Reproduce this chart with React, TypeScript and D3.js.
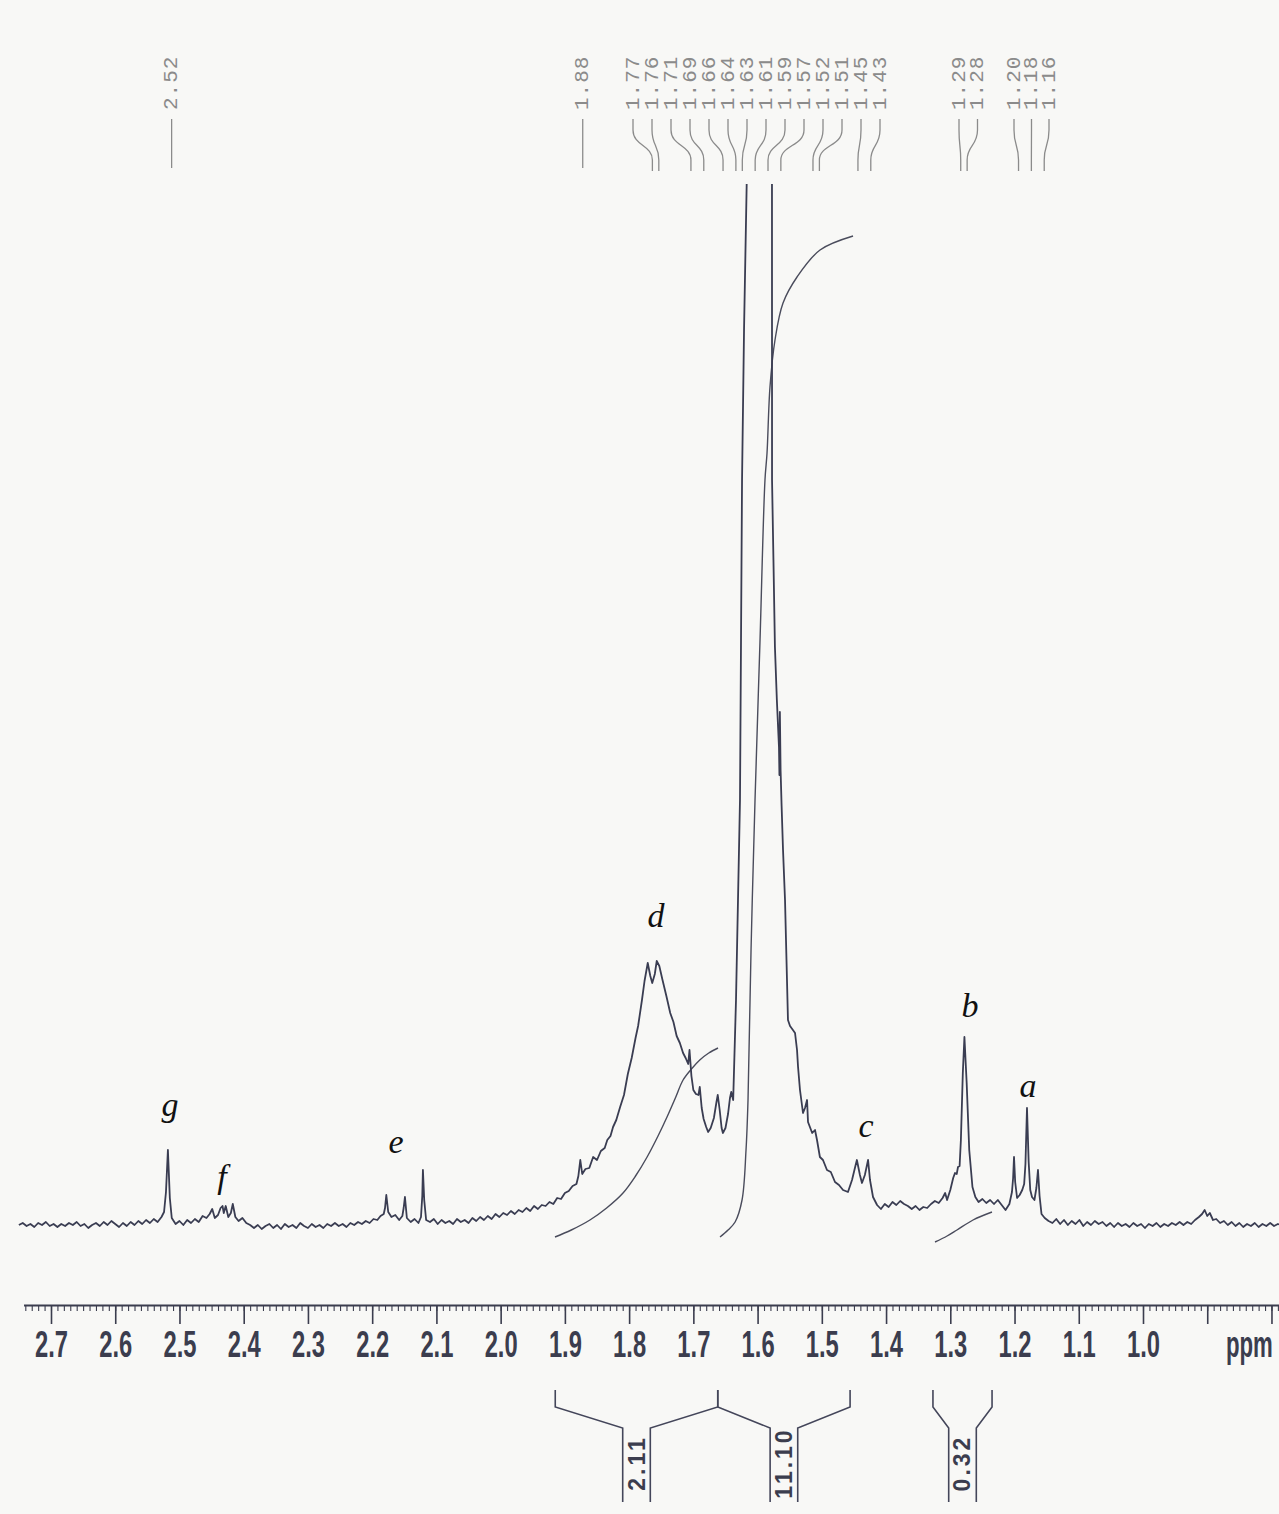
import React, { useEffect, useRef } from 'react';
import * as d3 from 'd3';

type Pt = [number, number];

// 1H NMR trace, [shift in ppm, intensity]; the solvent peak near 1.60 runs off scale
const traceLeft: Pt[] = [
  [2.750, 1], [2.744, 3], [2.738, 0], [2.732, 2], [2.726, -1], [2.720, 3], [2.714, 1], [2.708, 4],
  [2.702, 0], [2.696, 2], [2.690, -1], [2.684, 2], [2.678, 0], [2.672, 3], [2.666, 1], [2.660, 4],
  [2.654, 0], [2.648, 2], [2.642, -2], [2.636, 1], [2.630, 3], [2.624, 0], [2.618, 4], [2.612, 1],
  [2.606, 5], [2.600, 2], [2.594, -1], [2.588, 3], [2.582, 0], [2.576, 4], [2.570, 1], [2.564, 5],
  [2.558, 2], [2.552, 6], [2.546, 3], [2.540, 7], [2.534, 4], [2.528, 9],
];
const peakG: Pt[] = [[2.524, 14], [2.521, 34], [2.518, 76], [2.515, 28], [2.512, 8]];
const traceGF: Pt[] = [
  [2.506, 2], [2.500, 5], [2.494, 1], [2.488, 6], [2.482, 3], [2.476, 7], [2.470, 4], [2.464, 10], [2.458, 8],
];
const peakF: Pt[] = [
  [2.453, 12], [2.449, 17], [2.445, 8], [2.440, 11], [2.436, 18], [2.433, 20], [2.431, 13], [2.428, 20],
  [2.424, 9], [2.420, 13], [2.417, 22], [2.413, 9], [2.408, 5], [2.402, 8], [2.396, 3],
];
const traceFE: Pt[] = [
  [2.390, 1], [2.384, -2], [2.378, 1], [2.372, -3], [2.366, 0], [2.360, 2], [2.354, -2], [2.348, 1],
  [2.342, -3], [2.336, 2], [2.330, -1], [2.324, 1], [2.318, -2], [2.312, 3], [2.306, 0], [2.300, -2],
  [2.294, 2], [2.288, -1], [2.282, 1], [2.276, -2], [2.270, 2], [2.264, 0], [2.258, 3], [2.252, 0],
  [2.246, 2], [2.240, -1], [2.234, 3], [2.228, 1], [2.222, 4], [2.216, 2], [2.210, 5], [2.204, 3],
  [2.198, 7], [2.192, 6], [2.187, 10], [2.182, 12],
];
const peakE: Pt[] = [
  [2.180, 18], [2.178, 31], [2.175, 14], [2.170, 9], [2.164, 11], [2.158, 6], [2.153, 10], [2.151, 18],
  [2.149, 29], [2.146, 8], [2.140, 4], [2.134, 7], [2.128, 3], [2.124, 9], [2.122, 30], [2.121, 56],
  [2.119, 26], [2.116, 6], [2.110, 4],
];
const traceED: Pt[] = [
  [2.104, 7], [2.098, 2], [2.092, 6], [2.086, 3], [2.080, 5], [2.074, 2], [2.068, 7], [2.062, 4],
  [2.056, 6], [2.050, 3], [2.044, 8], [2.038, 5], [2.032, 9], [2.026, 6], [2.020, 10], [2.014, 7],
  [2.008, 12], [2.002, 9], [1.996, 13], [1.990, 11], [1.984, 15], [1.978, 12], [1.972, 16], [1.966, 14],
  [1.960, 18], [1.954, 15], [1.948, 20], [1.942, 17], [1.936, 21], [1.930, 20], [1.924, 24], [1.918, 22],
  [1.912, 28], [1.906, 27], [1.900, 33], [1.894, 35], [1.888, 40], [1.882, 42], [1.879, 50], [1.876, 66],
  [1.873, 52], [1.868, 57], [1.862, 58], [1.856, 69], [1.850, 66], [1.844, 75], [1.838, 78], [1.834, 86],
  [1.829, 90], [1.825, 99],
];
const peakD: Pt[] = [
  [1.820, 106], [1.814, 119], [1.808, 131], [1.802, 152], [1.796, 168], [1.790, 188], [1.786, 200],
  [1.780, 226], [1.776, 245], [1.771, 263], [1.767, 250], [1.764, 243], [1.760, 252], [1.757, 265],
  [1.753, 260], [1.748, 246], [1.742, 230], [1.736, 213], [1.731, 204], [1.726, 190], [1.721, 183],
  [1.716, 173], [1.712, 168], [1.708, 162], [1.706, 176], [1.703, 150], [1.700, 136], [1.696, 132],
  [1.692, 131], [1.690, 139], [1.687, 118], [1.684, 107], [1.680, 99], [1.677, 94], [1.673, 98],
  [1.668, 108], [1.664, 124], [1.662, 131], [1.659, 116], [1.656, 98], [1.654, 93], [1.650, 98],
  [1.646, 112], [1.643, 128], [1.641, 134], [1.638, 126],
];
const peakSolvent: Pt[] = [
  [1.6336, 226], [1.6305, 326], [1.6274, 426], [1.6258, 586], [1.6242, 746], [1.6211, 896], [1.6170, 1041],
  [1.612, 1500], [1.603, 2600], [1.592, 2600], [1.583, 1500], [1.5776, 1041], [1.5775, 746], [1.5753, 666],
  [1.573, 579], [1.570, 526], [1.5667, 479], [1.566, 451], [1.5653, 514], [1.5642, 456], [1.5626, 420],
  [1.5604, 376], [1.5573, 326], [1.555, 266], [1.5527, 206], [1.5495, 200], [1.545, 196], [1.5417, 193],
  [1.5386, 176], [1.537, 159], [1.534, 136], [1.5293, 113], [1.5262, 118], [1.523, 126], [1.5215, 104],
  [1.515, 93], [1.5106, 96], [1.5075, 86], [1.503, 69], [1.4982, 66], [1.492, 56], [1.486, 54],
  [1.4795, 44], [1.4733, 41], [1.467, 36], [1.4593, 34],
];
const peakC: Pt[] = [
  [1.453, 46], [1.4485, 58], [1.4454, 66], [1.4407, 51], [1.4375, 43], [1.433, 51], [1.428, 66],
  [1.425, 46], [1.4203, 29], [1.414, 21],
];
const traceCB: Pt[] = [
  [1.408, 17], [1.402, 22], [1.396, 19], [1.390, 24], [1.384, 21], [1.378, 25], [1.372, 22], [1.366, 20],
  [1.360, 17], [1.354, 20], [1.348, 16], [1.342, 19], [1.336, 18], [1.330, 22], [1.324, 25], [1.318, 23],
  [1.312, 28], [1.308, 33], [1.305, 26], [1.300, 36], [1.2955, 48], [1.2927, 53], [1.290, 52], [1.288, 59],
  [1.2855, 60],
];
const peakB: Pt[] = [
  [1.2835, 86], [1.2805, 153], [1.278, 189], [1.2745, 143], [1.2705, 76], [1.2655, 39], [1.2610, 29],
];
const traceBA: Pt[] = [
  [1.2560, 24], [1.2500, 27], [1.2440, 23], [1.2380, 26], [1.2320, 22], [1.2260, 26], [1.2200, 21],
  [1.2140, 16], [1.2080, 22], [1.2040, 34],
];
const peakA: Pt[] = [
  [1.2022, 48], [1.2008, 69], [1.1990, 44], [1.1960, 28], [1.1920, 31], [1.1880, 36], [1.1850, 42],
  [1.1830, 62], [1.1806, 118], [1.1780, 64], [1.1755, 36], [1.1728, 29], [1.1690, 26], [1.1660, 38],
  [1.1635, 56], [1.1610, 30], [1.1580, 12],
];
const traceRight: Pt[] = [
  [1.1530, 8], [1.1470, 5], [1.1410, 3], [1.1350, 7], [1.1290, 2], [1.1230, 6], [1.1170, 1], [1.1110, 5],
  [1.1050, 2], [1.0990, 6], [1.0930, 0], [1.0870, 4], [1.0810, 1], [1.0750, 5], [1.0690, 2], [1.0630, 4],
  [1.0570, 0], [1.0510, 3], [1.0450, -1], [1.0390, 3], [1.0330, 0], [1.0270, 2], [1.0210, -1], [1.0150, 3],
  [1.0090, 0], [1.0030, 2], [0.9970, -2], [0.9910, 2], [0.9850, 0], [0.9790, 3], [0.9730, -1], [0.9670, 2],
  [0.9610, 0], [0.9550, 3], [0.9490, 1], [0.9430, 4], [0.9370, 1], [0.9310, 4], [0.9250, 2], [0.9190, 6],
  [0.9130, 9], [0.9080, 12], [0.9040, 16], [0.9000, 10], [0.8960, 13], [0.8910, 6], [0.8860, 7], [0.8800, 3],
  [0.8740, 5], [0.8680, 1], [0.8620, 4], [0.8560, 0], [0.8500, 3], [0.8440, -1], [0.8380, 2], [0.8320, 0],
  [0.8260, 3], [0.8200, -1], [0.8140, 2], [0.8080, 0], [0.8020, 3], [0.7960, 0], [0.7900, 2], [0.7850, 1],
];

const spectrum: Pt[] = [
  ...traceLeft, ...peakG, ...traceGF, ...peakF, ...traceFE, ...peakE, ...traceED, ...peakD,
  ...peakSolvent, ...peakC, ...traceCB, ...peakB, ...traceBA, ...peakA, ...traceRight,
];

// Integral curves, same coordinates as the trace
const integralD: Pt[] = [
  [1.9154, -11], [1.890, -4], [1.861, 6], [1.835, 18], [1.8095, 33], [1.790, 50], [1.772, 69],
  [1.755, 90], [1.741, 109], [1.728, 128], [1.716, 146], [1.703, 157], [1.690, 166], [1.676, 173], [1.6616, 178],
];
const integralSolvent: Pt[] = [
  [1.6585, -11], [1.646, -4], [1.635, 4], [1.6242, 26], [1.618, 76], [1.6149, 126], [1.6102, 276],
  [1.604, 426], [1.5962, 586], [1.5885, 746], [1.5853, 773], [1.5807, 839], [1.5729, 886], [1.5604, 923],
  [1.5386, 949], [1.5028, 976], [1.4514, 990],
];
const integralB: Pt[] = [[1.3238, -16], [1.305, -10], [1.2896, -4], [1.2646, 6], [1.2351, 14]];

// Integration ranges (ppm) and their values
const integralRanges: [number, number][] = [[1.915, 1.662], [1.662, 1.456], [1.327, 1.235]];
const integralValues = ['2.11', '11.10', '0.32'];

// Peak-pick labels
const peakSingles = [2.52, 1.88];
const peakGroupA = [1.77, 1.76, 1.71, 1.69, 1.66, 1.64, 1.63, 1.61, 1.59, 1.57, 1.52, 1.51, 1.45, 1.43];
const peakGroupB = [1.29, 1.28];
const peakGroupC = [1.20, 1.18, 1.16];

// Assignment letters with their ppm and height above baseline
const assignLetters = ['g', 'f', 'e', 'd', 'c', 'b', 'a'];
const assignPpm = [2.5147, 2.4338, 2.163, 1.7581, 1.4312, 1.2693, 1.179];
const assignHeight = [110, 38, 73, 299, 89, 209, 129];

// Axis ticks
const majorTicks = [2.7, 2.6, 2.5, 2.4, 2.3, 2.2, 2.1, 2.0, 1.9, 1.8, 1.7, 1.6, 1.5, 1.4, 1.3, 1.2, 1.1, 1.0, 0.9, 0.8];
const labeledTicks = ['2.7', '2.6', '2.5', '2.4', '2.3', '2.2', '2.1', '2.0', '1.9', '1.8', '1.7', '1.6', '1.5', '1.4', '1.3', '1.2', '1.1', '1.0'];
const axisUnit = 'ppm';

const W = 1279;
const H = 1514;
const AXIS_Y = 1305;
const INK = '#3a3d52';
const LABEL_GREY = '#8b8b8b';

export default function App() {
  const axisRef = useRef<SVGGElement>(null);

  const x = d3.scaleLinear().domain([2.7, 1.0]).range([51, 1143]);
  const y = d3.scaleLinear().domain([0, 1041]).range([1226, 185]);

  const traceLine = d3.line<Pt>().x((d) => x(d[0])).y((d) => y(d[1]));
  const smoothLine = d3
    .line<Pt>()
    .x((d) => x(d[0]))
    .y((d) => y(d[1]))
    .curve(d3.curveCatmullRom.alpha(0.5));

  useEffect(() => {
    if (!axisRef.current) return;
    const g = d3.select(axisRef.current);
    g.selectAll('*').remove();

    const minorVals = d3.range(0, 197).map((i) => +(2.74 - i * 0.01).toFixed(2));
    const minor = d3.axisBottom(x).tickValues(minorVals).tickSize(6).tickFormat(() => '');
    const gm = g.append('g').call(minor);
    gm.select('.domain').remove();
    gm.selectAll('line').attr('stroke-width', 1.1);

    const major = d3
      .axisBottom(x)
      .tickValues(majorTicks)
      .tickSize(19)
      .tickFormat((d) => {
        const s = (d as number).toFixed(1);
        return labeledTicks.includes(s) ? s : '';
      });
    const gM = g.append('g').call(major);
    gM.select('.domain').remove();
    gM.selectAll('line').attr('stroke-width', 1.6);
    gM.selectAll('text')
      .attr('y', 52)
      .attr('dy', null)
      .attr('font-family', '"Liberation Sans", Arial, sans-serif')
      .attr('font-weight', 700)
      .attr('font-size', 37)
      .attr('textLength', 33)
      .attr('lengthAdjust', 'spacingAndGlyphs');

    g.append('line')
      .attr('x1', x(2.742))
      .attr('x2', W)
      .attr('y1', 0.5)
      .attr('y2', 0.5)
      .attr('stroke', 'currentColor')
      .attr('stroke-width', 2);

    // unit label, condensed by a horizontal scale so it fits the right edge
    g.append('text')
      .attr('transform', 'translate(1226,52) scale(0.6,1)')
      .attr('fill', 'currentColor')
      .attr('font-family', '"Liberation Sans", Arial, sans-serif')
      .attr('font-weight', 700)
      .attr('font-size', 37)
      .text(axisUnit);
  }, []);

  // peak-pick label slots
  type Slot = { ppm: number; lx: number; bent: boolean };
  const slots: Slot[] = [];
  peakSingles.forEach((p) => slots.push({ ppm: p, lx: x(p) + 5, bent: false }));
  const groups: [number[], number, number][] = [
    [peakGroupA, 633, 19],
    [peakGroupB, 959, 18.5],
    [peakGroupC, 1014, 17.5],
  ];
  groups.forEach(([ppms, start, step]) =>
    ppms.forEach((p, i) => slots.push({ ppm: p, lx: start + i * step, bent: true })),
  );

  const bracketPath = (r: [number, number]) => {
    const xl = x(r[0]);
    const xr = x(r[1]);
    const c = (xl + xr) / 2;
    const gap = 13.8;
    return (
      `M${xl},1390 L${xl},1407 L${c - gap},1428 L${c - gap},1502 ` +
      `M${c + gap},1502 L${c + gap},1428 L${xr},1407 L${xr},1390`
    );
  };

  return (
    <svg
      width={W}
      height={H}
      viewBox={`0 0 ${W} ${H}`}
      style={{ position: 'absolute', left: 0, top: 0, display: 'block' }}
    >
      <defs>
        <clipPath id="plotClip">
          <rect x={0} y={184} width={W} height={1120} />
        </clipPath>
      </defs>
      <rect width={W} height={H} fill="#f8f8f6" />

      {/* peak-pick labels */}
      <g>
        {slots.map((s, i) => {
          const xb = x(s.ppm) + 4;
          const d = s.bent
            ? `M${s.lx},119 L${s.lx},130 C${s.lx},146 ${xb},145 ${xb},160 L${xb},171`
            : `M${s.lx},119 L${s.lx},168`;
          return (
            <g key={i}>
              <path d={d} fill="none" stroke={LABEL_GREY} strokeWidth={1.3} />
              <text
                transform={`translate(${s.lx},110) rotate(-90)`}
                textAnchor="start"
                dominantBaseline="central"
                fontFamily='"Liberation Mono", "DejaVu Sans Mono", monospace'
                fontSize={21}
                letterSpacing={1}
                fill={LABEL_GREY}
              >
                {s.ppm.toFixed(2)}
              </text>
            </g>
          );
        })}
      </g>

      {/* integral curves */}
      <g fill="none" stroke="#4a4c5c" strokeWidth={1.4}>
        <path d={smoothLine(integralD) ?? ''} />
        <path d={smoothLine(integralSolvent) ?? ''} />
        <path d={smoothLine(integralB) ?? ''} />
      </g>

      {/* spectrum trace */}
      <g clipPath="url(#plotClip)">
        <path
          d={traceLine(spectrum) ?? ''}
          fill="none"
          stroke={INK}
          strokeWidth={1.8}
          strokeLinejoin="round"
        />
      </g>

      {/* assignment letters */}
      <g fontFamily='"Liberation Serif", "Times New Roman", serif' fontStyle="italic" fontSize={34} fill="#111">
        {assignLetters.map((l, i) => (
          <text key={l} x={x(assignPpm[i])} y={y(assignHeight[i])} textAnchor="middle">
            {l}
          </text>
        ))}
      </g>

      {/* ppm axis */}
      <g ref={axisRef} transform={`translate(0,${AXIS_Y})`} color="#3b3d4e" />

      {/* integration brackets and values */}
      <g>
        {integralRanges.map((r, i) => {
          const c = (x(r[0]) + x(r[1])) / 2;
          return (
            <g key={i}>
              <path d={bracketPath(r)} fill="none" stroke="#44465a" strokeWidth={1.6} />
              <text
                transform={`translate(${c},1463) rotate(-90)`}
                textAnchor="middle"
                dominantBaseline="central"
                fontFamily='"Liberation Sans", Arial, sans-serif'
                fontWeight={700}
                fontSize={23}
                letterSpacing={3}
                fill="#3b3d4e"
              >
                {integralValues[i]}
              </text>
            </g>
          );
        })}
      </g>
    </svg>
  );
}
